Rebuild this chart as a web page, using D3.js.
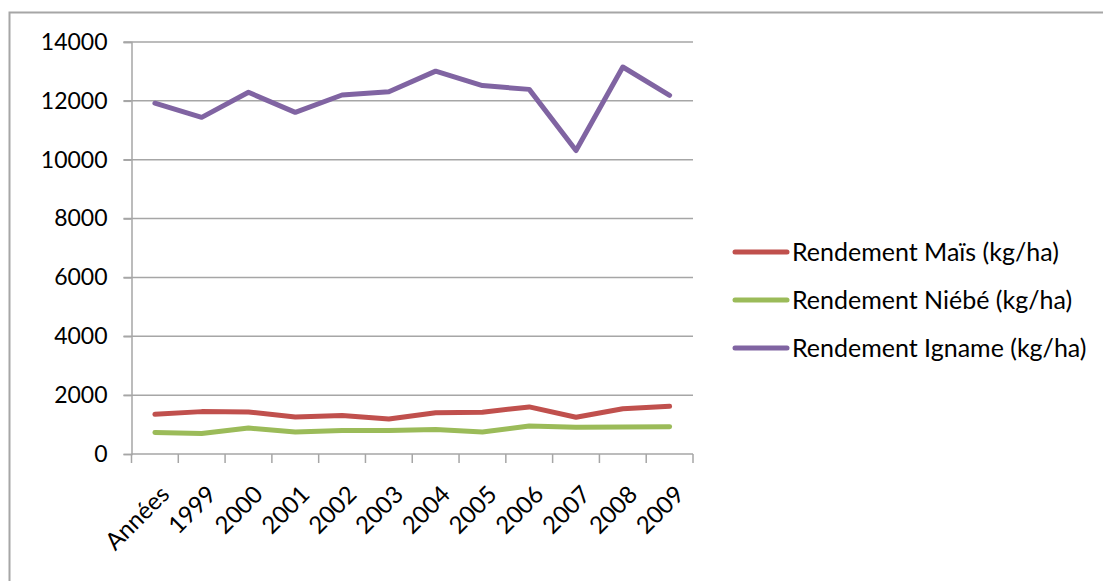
<!DOCTYPE html>
<html>
<head>
<meta charset="utf-8">
<script src="https://cdn.jsdelivr.net/npm/d3@7"></script>
<style>
    body { margin: 0; background: #fff; }
    svg { display: block; font-family: Lato, "Open Sans", sans-serif; }
</style>
</head>
<body>
<svg id="chart" width="1103" height="581"></svg>
<script>
// categories and series
var categories = ["Années", "1999", "2000", "2001", "2002", "2003", "2004", "2005", "2006", "2007", "2008", "2009"];
var mais = [1350, 1440, 1430, 1260, 1310, 1190, 1400, 1420, 1600, 1250, 1540, 1620];
var niebe = [730, 700, 880, 750, 800, 800, 830, 750, 950, 910, 920, 930];
var igname = [11920, 11440, 12290, 11610, 12200, 12310, 13010, 12520, 12390, 10310, 13150, 12190];
var yTicks = [0, 2000, 4000, 6000, 8000, 10000, 12000, 14000];
var seriesNames = ["Rendement Maïs (kg/ha)", "Rendement Niébé (kg/ha)", "Rendement Igname (kg/ha)"];

var series = [
    { name: seriesNames[0], values: mais, color: "#c0504d" },
    { name: seriesNames[1], values: niebe, color: "#9bbb59" },
    { name: seriesNames[2], values: igname, color: "#8064a2" }
];

var margin = { top: 42, left: 131.5 },
    width = 561.5,
    height = 412

var svg = d3.select("#chart")

// frame around the chart area
svg.append("path")
    .attr("d", "M9.5,581 L9.5,12.5 L1103,12.5")
    .attr("fill", "none")
    .attr("stroke", "#a6a6a6")
    .attr("stroke-width", 2)

var g = svg.append("g")
    .attr("transform", "translate(" + margin.left + "," + margin.top + ")")

var x = d3.scaleBand()
    .domain(categories)
    .range([0, width])

var y = d3.scaleLinear()
    .domain([0, 14000])
    .range([height, 0])

// gridlines
g.selectAll(".grid")
    .data(yTicks.slice(1))
    .enter().append("line")
    .attr("x1", -8)
    .attr("x2", width)
    .attr("y1", function (d) { return y(d); })
    .attr("y2", function (d) { return y(d); })
    .attr("stroke", "#a6a6a6")
    .attr("stroke-width", 1.5)

// y axis
var yAxis = g.append("g")
    .call(d3.axisLeft(y).tickValues(yTicks).tickSize(8).tickPadding(16).tickFormat(d3.format("d")))
yAxis.selectAll("line").attr("stroke", "#a6a6a6").attr("stroke-width", 1.5)
yAxis.select(".domain").attr("stroke", "#a6a6a6").attr("stroke-width", 1.5)
yAxis.selectAll("text")
    .style("font-size", "23px")
    .style("font-family", "Lato, sans-serif")
    .attr("fill", "#000")

// x axis: ticks at the band edges
var xg = g.append("g")
    .attr("transform", "translate(0," + height + ")")
xg.append("line")
    .attr("x1", 0).attr("x2", width)
    .attr("stroke", "#a6a6a6").attr("stroke-width", 1.5)
var edges = categories.map(function (d) { return x(d); }).concat([width])
xg.selectAll(".tick")
    .data(edges)
    .enter().append("line")
    .attr("x1", function (d) { return d; })
    .attr("x2", function (d) { return d; })
    .attr("y1", 0)
    .attr("y2", 9)
    .attr("stroke", "#a6a6a6")
    .attr("stroke-width", 1.5)

xg.selectAll(".xlabel")
    .data(categories)
    .enter().append("text")
    .attr("transform", function (d) {
        return "translate(" + (x(d) + x.bandwidth() / 2 + 10) + ",36) rotate(-45)"
    })
    .attr("text-anchor", "end")
    .attr("dy", "0.35em")
    .style("font-size", "24px")
    .text(function (d) { return d; })

// lines
var line = d3.line()
    .x(function (d, i) { return x(categories[i]) + x.bandwidth() / 2; })
    .y(function (d) { return y(d); })

g.selectAll(".series")
    .data(series)
    .enter().append("path")
    .attr("d", function (d) { return line(d.values); })
    .attr("fill", "none")
    .attr("stroke", function (d) { return d.color; })
    .attr("stroke-width", 5)
    .attr("stroke-linejoin", "round")
    .attr("stroke-linecap", "round")

// legend
var legend = svg.append("g")
    .attr("transform", "translate(735,252)")

var item = legend.selectAll(".item")
    .data(series)
    .enter().append("g")
    .attr("transform", function (d, i) { return "translate(0," + (i * 48) + ")"; })

item.append("line")
    .attr("x1", 0).attr("x2", 52)
    .attr("stroke", function (d) { return d.color; })
    .attr("stroke-width", 5)
    .attr("stroke-linecap", "round")

item.append("text")
    .attr("x", 57)
    .attr("dy", "0.35em")
    .style("font-size", "25px")
    .text(function (d) { return d.name; })
</script>
</body>
</html>
